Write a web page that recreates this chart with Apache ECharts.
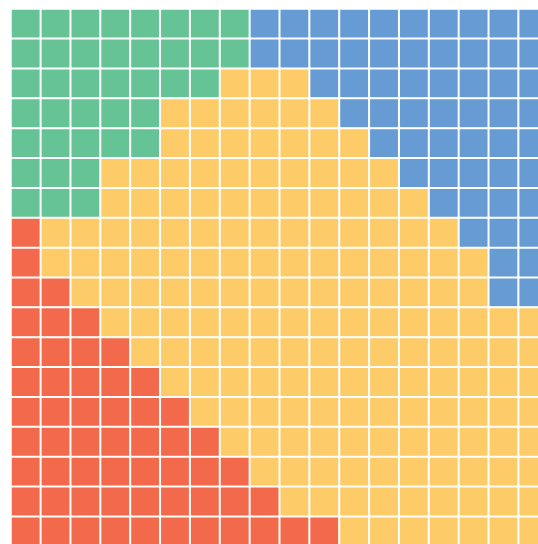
<!DOCTYPE html>
<html>
<head>
<meta charset="utf-8">
<script src="https://cdn.jsdelivr.net/npm/echarts@6/dist/echarts.min.js"></script>
<style>html,body{margin:0;padding:0;background:#fff;}#c{width:538px;height:544px;}</style>
</head>
<body>
<div id="c"></div>
<script>
// Category codes per cell
var categories = ['G', 'B', 'Y', 'R'];
var categoryColors = ['#66c396', '#679bd3', '#fdcc69', '#f2694b'];
// Rows of the grid, top to bottom (18 columns each)
var rows = [
  'GGGGGGGGBBBBBBBBBB',
  'GGGGGGGGBBBBBBBBBB',
  'GGGGGGGYYYBBBBBBBB',
  'GGGGGYYYYYYBBBBBBB',
  'GGGGGYYYYYYYBBBBBB',
  'GGGYYYYYYYYYYBBBBB',
  'GGGYYYYYYYYYYYBBBB',
  'RYYYYYYYYYYYYYYBBB',
  'RYYYYYYYYYYYYYYYBB',
  'RRYYYYYYYYYYYYYYBB',
  'RRRYYYYYYYYYYYYYYY',
  'RRRRYYYYYYYYYYYYYY',
  'RRRRRYYYYYYYYYYYYY',
  'RRRRRRYYYYYYYYYYYY',
  'RRRRRRRYYYYYYYYYYY',
  'RRRRRRRRYYYYYYYYYY',
  'RRRRRRRRRYYYYYYYYY',
  'RRRRRRRRRRRYYYYYYY'
];
var nCols = rows[0].length;
var nRows = rows.length;
var xCats = [], yCats = [];
for (var i = 0; i < nCols; i++) xCats.push(String(i));
for (var j = 0; j < nRows; j++) yCats.push(String(j));
var data = [];
rows.forEach(function (r, y) {
  for (var x = 0; x < r.length; x++) {
    data.push([x, y, categories.indexOf(r[x])]);
  }
});
var chart = echarts.init(document.getElementById('c'));
chart.setOption({
  animation: false,
  grid: { left: 11, top: 9, width: 537.5, height: 537.5, outerBoundsMode: 'none', containLabel: false },
  xAxis: { type: 'category', data: xCats, show: false },
  yAxis: { type: 'category', data: yCats, inverse: true, show: false },
  visualMap: {
    show: false,
    type: 'piecewise',
    dimension: 2,
    pieces: categories.map(function (c, k) { return { value: k, color: categoryColors[k] }; })
  },
  series: [{
    type: 'heatmap',
    data: data,
    itemStyle: { borderColor: '#ffffff', borderWidth: 2 },
    emphasis: { disabled: true }
  }]
});
</script>
</body>
</html>
